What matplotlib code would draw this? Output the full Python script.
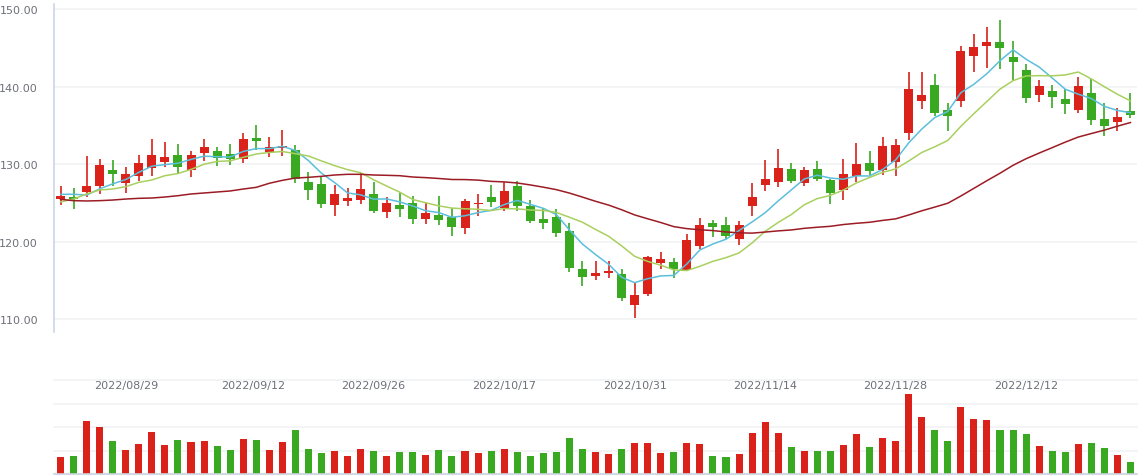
import numpy as np
import pandas as pd
import matplotlib
matplotlib.use('Agg')
import matplotlib.pyplot as plt
import matplotlib.transforms as mtransforms

# daily candles
opens = [125.44, 125.74, 126.43, 127.2, 129.23, 127.59, 128.49, 129.53, 130.26, 131.16,
         129.27, 131.46, 131.63, 131.29, 130.69, 133.35, 131.55, 132.11, 131.81, 127.68,
         127.42, 124.75, 125.27, 125.4, 126.13, 123.85, 124.71, 124.97, 122.95, 123.42,
         123.16, 121.78, 124.88, 125.74, 124.37, 127.16, 124.58, 122.9, 123.16, 121.35,
         116.45, 115.59, 115.94, 115.81, 111.85, 113.27, 117.27, 117.35, 116.37, 119.42,
         122.39, 122.13, 120.37, 124.62, 127.33, 127.72, 129.35, 127.59, 129.35, 127.94,
         126.69, 128.49, 130.13, 129.27, 130.3, 134.04, 138.17, 140.19, 136.97, 138.17,
         143.98, 145.27, 145.74, 143.81, 142.13, 138.95, 139.42, 138.39, 137.01, 139.16,
         135.81, 135.46, 136.84]
closes = [125.87, 125.53, 127.16, 129.87, 128.75, 128.71, 130.13, 131.16, 130.86, 129.66,
          131.16, 132.19, 130.82, 130.69, 133.23, 133.01, 132.15, 132.32, 128.02, 126.69,
          124.88, 126.13, 125.61, 126.77, 123.98, 124.97, 124.24, 122.95, 123.68, 122.82,
          121.91, 125.23, 125.01, 125.14, 126.52, 124.62, 122.69, 122.43, 121.14, 116.62,
          115.46, 115.94, 116.19, 112.75, 113.1, 118.0, 117.74, 116.49, 120.19, 122.13,
          121.87, 120.75, 122.13, 125.74, 128.06, 129.48, 127.85, 129.23, 128.11, 126.3,
          128.71, 130.0, 129.14, 132.32, 132.45, 139.68, 138.9, 136.62, 136.24, 144.58,
          145.1, 145.74, 145.01, 143.2, 138.56, 140.02, 138.69, 137.78, 140.02, 135.72,
          134.95, 136.06, 136.37]
highs = [127.1, 126.9, 131.03, 130.6, 130.52, 129.66, 131.2, 133.23, 132.84, 132.58,
         131.68, 133.27, 132.19, 132.58, 134.0, 135.03, 133.53, 134.39, 132.49, 128.97,
         128.41, 127.33, 126.9, 128.88, 127.68, 125.74, 126.43, 125.87, 124.97, 125.87,
         124.32, 125.48, 126.13, 127.29, 127.72, 127.81, 125.35, 124.37, 124.19, 122.39,
         117.48, 117.48, 117.48, 116.45, 114.65, 118.1, 118.65, 117.91, 120.97, 123.03,
         122.77, 123.16, 122.65, 127.55, 130.52, 131.94, 130.13, 129.61, 130.39, 128.06,
         130.65, 132.71, 131.68, 133.48, 133.23, 141.87, 141.87, 141.61, 137.87, 145.23,
         146.77, 147.68, 148.58, 145.87, 142.9, 140.84, 140.19, 139.68, 141.23, 140.97,
         137.87, 137.23, 139.16]
lows = [124.75, 124.24, 125.74, 126.17, 127.16, 126.26, 127.8, 128.45, 129.66, 128.88,
        128.37, 130.39, 129.78, 129.91, 130.13, 131.85, 130.95, 131.08, 127.59, 125.4,
        124.32, 123.29, 124.62, 124.88, 123.72, 123.03, 123.16, 122.3, 122.3, 122.17,
        120.75, 121.01, 123.33, 124.49, 123.94, 123.98, 122.43, 121.61, 120.58, 116.11,
        114.3, 115.08, 115.33, 112.37, 110.17, 113.01, 116.49, 115.33, 116.24, 119.08,
        120.58, 120.32, 119.59, 123.33, 126.52, 127.08, 127.59, 127.2, 127.85, 124.88,
        125.4, 127.68, 128.58, 128.62, 128.49, 133.1, 137.14, 136.24, 134.3, 137.4,
        141.91, 142.39, 142.26, 140.71, 137.91, 138.04, 137.27, 136.49, 136.62, 135.08,
        133.66, 134.3, 135.98]

# moving averages as drawn on the chart
ma5 = [126.08, 126.1, 125.98, 126.8, 127.44, 128.0, 128.92, 129.72, 129.92, 130.1,
       130.59, 131.01, 130.94, 130.9, 131.62, 131.99, 131.98, 132.28, 131.75, 130.44,
       128.81, 127.61, 126.27, 126.02, 125.47, 125.49, 125.11, 124.58, 123.96, 123.73,
       123.12, 123.32, 123.73, 124.02, 124.76, 125.3, 124.8, 124.28, 123.48, 121.5,
       119.67, 118.32, 117.07, 115.39, 114.69, 115.2, 115.56, 115.62, 117.1, 118.91,
       119.68, 120.29, 121.41, 122.52, 123.71, 125.23, 126.65, 128.07, 128.55, 128.19,
       128.04, 128.47, 128.45, 129.29, 130.52, 132.72, 134.5, 135.99, 136.78, 139.2,
       140.29, 141.66, 143.33, 144.73, 143.52, 142.51, 141.1, 139.65, 139.01, 138.45,
       137.43, 136.91, 136.62]
ma10 = [125.1, 125.48, 126.13, 126.65, 126.77, 127.08, 127.63, 127.94, 128.49, 128.77,
        129.3, 129.97, 130.33, 130.41, 130.86, 131.29, 131.49, 131.61, 131.33, 131.03,
        130.4, 129.79, 129.27, 128.88, 127.96, 127.15, 126.36, 125.42, 124.99, 124.6,
        124.31, 124.22, 124.16, 123.99, 124.25, 124.21, 124.06, 124.01, 123.75, 123.13,
        122.49, 121.56, 120.68, 119.44, 118.09, 117.43, 116.94, 116.34, 116.25, 116.8,
        117.44, 117.92, 118.52, 119.81, 121.31, 122.46, 123.47, 124.74, 125.54, 125.95,
        126.64, 127.56, 128.26, 128.92, 129.36, 130.38, 131.48, 132.22, 133.04, 134.86,
        136.5, 138.08, 139.66, 140.75, 141.36, 141.4, 141.38, 141.49, 141.87, 140.98,
        139.97, 139.0, 138.14]
ma30 = [125.44, 125.27, 125.23, 125.27, 125.35, 125.48, 125.57, 125.61, 125.74, 125.91,
        126.13, 126.26, 126.39, 126.52, 126.77, 126.99, 127.51, 127.89, 128.19, 128.28,
        128.41, 128.58, 128.67, 128.67, 128.58, 128.54, 128.49, 128.32, 128.24, 128.13,
        128.0, 127.99, 127.92, 127.76, 127.69, 127.55, 127.3, 127.01, 126.69, 126.25,
        125.73, 125.19, 124.7, 124.1, 123.43, 122.93, 122.45, 121.92, 121.66, 121.51,
        121.41, 121.23, 121.12, 121.08, 121.22, 121.37, 121.49, 121.7, 121.84, 121.96,
        122.19, 122.35, 122.48, 122.72, 122.92, 123.42, 123.96, 124.44, 124.94, 125.87,
        126.86, 127.85, 128.81, 129.83, 130.68, 131.41, 132.11, 132.82, 133.48, 133.93,
        134.37, 134.88, 135.35]

# volume (relative units, one grid step = 1)
volume = [0.72, 0.77, 2.26, 2.0, 1.40, 1.02, 1.28, 1.79, 1.23, 1.45,
          1.36, 1.40, 1.19, 1.02, 1.49, 1.45, 1.02, 1.36, 1.87, 1.06,
          0.89, 0.98, 0.77, 1.06, 0.98, 0.77, 0.94, 0.94, 0.81, 1.02,
          0.77, 0.98, 0.89, 0.98, 1.06, 0.94, 0.77, 0.89, 0.94, 1.53,
          1.06, 0.94, 0.85, 1.06, 1.32, 1.32, 0.89, 0.94, 1.32, 1.28,
          0.77, 0.72, 0.85, 1.74, 2.21, 1.74, 1.15, 0.98, 0.98, 0.98,
          1.23, 1.70, 1.15, 1.53, 1.40, 3.40, 2.43, 1.87, 1.40, 2.85,
          2.34, 2.30, 1.87, 1.87, 1.70, 1.19, 0.98, 0.94, 1.28, 1.32,
          1.11, 0.81, 0.51]

holidays = ['2022-09-12', '2022-10-03', '2022-10-04', '2022-10-05', '2022-10-06', '2022-10-07']
date_labels = ['2022/08/29', '2022/09/12', '2022/09/26', '2022/10/17',
               '2022/10/31', '2022/11/14', '2022/11/28', '2022/12/12']
y_ticks = [110, 120, 130, 140, 150]

RED = '#da211a'
GREEN = '#3aa922'
LABEL = '#6e7079'
GRID = '#f1f2f5'

dates = pd.bdate_range('2022-08-22', '2022-12-22')
dates = dates[~dates.isin(pd.to_datetime(holidays))]
n = len(closes)
x = np.arange(n)

o = np.array(opens)
c = np.array(closes)
up = c >= o
colors = np.where(up, RED, GREEN)

W, H = 1145, 477
fig = plt.figure(figsize=(W / 100, H / 100), dpi=100)

def px_axes(left, top, right, bottom):
    return fig.add_axes([left / W, 1 - bottom / H, (right - left) / W, (bottom - top) / H])

# price panel
ax = px_axes(54, 5, 1137, 333)
ax.set_xlim(-0.5, n - 0.5)
ax.set_ylim(110 - 13 / 7.75, 110 + 315 / 7.75)
for v in y_ticks:
    ax.axhline(v, color=GRID, lw=1.2, zorder=0)

ax.vlines(x, lows, highs, colors=colors, lw=1.2, zorder=2)
body = np.maximum(np.abs(c - o), 0.13)
ax.bar(x, body, bottom=np.minimum(o, c), width=0.69, color=colors, zorder=3)

ax.plot(x, ma5, color='#5bbfdc', lw=1.1, zorder=4)
ax.plot(x, ma10, color='#a9d05e', lw=1.1, zorder=4)
ax.plot(x, ma30, color='#9c1c25', lw=1.1, zorder=4)

ax.set_yticks(y_ticks)
ax.set_yticklabels([f'{v:.2f}' for v in y_ticks])
ax.tick_params(axis='y', length=0, pad=11.5, labelsize=8, labelcolor=LABEL)
ax.set_xticks([])
for s in ['top', 'right', 'bottom']:
    ax.spines[s].set_visible(False)
ax.spines['left'].set_color('#ccd5e6')
ax.spines['left'].set_linewidth(1.2)

# volume panel
axv = px_axes(54, 381.3, 1137, 475)
axv.set_xlim(-0.5, n - 0.5)
axv.set_ylim(0, 4)
for v in [1, 2, 3, 4]:
    axv.axhline(v, color=GRID, lw=1.2, zorder=0, clip_on=False)
axv.bar(x, volume, width=0.54, color=colors, zorder=2)
axv.set_xticks([])
axv.set_yticks([])
for s in ['top', 'right', 'left']:
    axv.spines[s].set_visible(False)
axv.spines['bottom'].set_color('#ccd3df')
axv.spines['bottom'].set_linewidth(1.2)

# date labels sit on top of the volume grid
ords = dates.map(pd.Timestamp.toordinal).values
trans = mtransforms.blended_transform_factory(axv.transData, axv.transAxes)
for lab in date_labels:
    pos = np.interp(pd.Timestamp(lab.replace('/', '-')).toordinal(), ords, x)
    axv.text(pos, 0.95, lab, transform=trans, ha='center', va='center',
             fontsize=8, color=LABEL)

fig.savefig('out.png', dpi=100)
